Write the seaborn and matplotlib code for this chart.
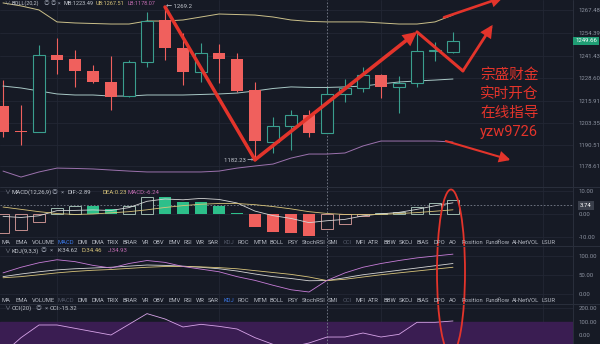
import matplotlib
matplotlib.use("Agg")
import matplotlib.pyplot as plt
import seaborn as sns
import numpy as np
from matplotlib.patches import Ellipse
from matplotlib.lines import Line2D

# ---------------- data ----------------
opens = [1212.8, 1198.2, 1198.0, 1241.9, 1239.6, 1232.8, 1226.5, 1218.5, 1237.9, 1261.8, 1245.9, 1232.2, 1243.0,
         1239.6, 1222.0, 1192.3, 1201.5, 1207.7, 1197.5, 1219.7, 1223.1, 1230.5, 1223.7, 1225.9, 1244.1, 1243.6]
closes = [1198.0, 1198.0, 1241.9, 1239.0, 1232.8, 1226.5, 1218.0, 1237.9, 1261.2, 1245.9, 1232.2, 1243.0, 1239.6,
          1221.4, 1192.9, 1201.5, 1207.7, 1197.5, 1219.7, 1223.1, 1230.5, 1223.7, 1225.9, 1244.1, 1244.7, 1249.66]
highs = [1227.6, 1213.4, 1247.6, 1251.5, 1244.7, 1236.2, 1241.3, 1239.0, 1266.3, 1269.2, 1254.4, 1248.7, 1248.1,
         1243.0, 1226.5, 1206.6, 1210.6, 1210.6, 1223.7, 1228.2, 1235.0, 1231.0, 1229.9, 1255.0, 1249.3, 1255.0]
lows = [1195.2, 1190.6, 1198.0, 1231.1, 1223.7, 1225.9, 1210.6, 1218.0, 1235.0, 1239.0, 1224.8, 1226.5, 1225.9,
        1220.8, 1182.23, 1186.1, 1187.8, 1195.2, 1197.5, 1215.1, 1220.8, 1217.4, 1208.8, 1223.7, 1238.5, 1243.0]

boll_upper = [1271.5, 1269.8, 1267.5, 1260.7, 1260.1, 1259.8, 1259.5, 1259.5, 1261.2, 1261.2, 1261.8, 1263.5, 1265.2,
              1264.9, 1264.6, 1263.5, 1261.8, 1261.0, 1260.7, 1260.7, 1260.7, 1260.1, 1259.5, 1259.5, 1260.7, 1264.6]
boll_mid = [1224.2, 1223.1, 1221.4, 1219.7, 1219.1, 1219.1, 1218.5, 1218.5, 1219.1, 1219.1, 1219.1, 1219.4, 1219.7,
            1220.2, 1221.4, 1222.8, 1223.7, 1223.4, 1223.4, 1223.7, 1224.2, 1225.4, 1226.5, 1227.1, 1227.6, 1228.2]
boll_lower = [1175.8, 1172.4, 1175.3, 1177.5, 1177.3, 1177.0, 1176.4, 1175.8, 1175.3, 1175.3, 1175.3, 1175.3, 1175.8,
              1177.5, 1178.7, 1179.8, 1183.2, 1185.5, 1185.5, 1186.1, 1190.1, 1192.9, 1192.9, 1192.9, 1192.9, 1192.3]

macd_hist = [-8, -7, -3.5, 2.5, 3.5, 3.5, 2, 3.5, 7.3, 7.3, 5, 5, 3.5, 0.5, -5.5, -7.8, -8.2, -9.4, -6.24,
             -4.2, -1, 0.5, 1, 2.8, 4.7, 6]
macd_dea = [3.0, 2.0, 1.0, 0.2, -0.2, 0.0, 0.5, 1.0, 1.8, 2.8, 3.6, 4.2, 4.5, 4.5, 4.0, 3.2, 2.2, 1.0, 0.23,
            -0.2, -0.3, -0.2, 0.2, 0.6, 1.2, 1.8]
macd_dif = [-1.0, -1.5, -0.75, 1.45, 1.55, 1.75, 1.5, 2.75, 5.45, 6.45, 6.1, 6.7, 6.25, 4.75, 1.25, -0.7, -1.9,
            -3.7, -2.89, -2.3, -0.8, 0.05, 0.7, 2.0, 3.55, 4.8]

kdj_k = [45, 52, 58, 63, 66, 68, 70, 73, 76, 75, 73, 70, 66, 60, 52, 45, 40, 34, 34.62, 42, 50, 56, 62, 68, 74, 80]
kdj_d = [42, 45, 50, 55, 59, 62, 64, 67, 70, 72, 72, 71, 69, 66, 61, 56, 51, 44, 34.46, 38, 44, 50, 55, 60, 65, 70]
kdj_j = [55, 70, 82, 90, 85, 75, 68, 80, 88, 83, 72, 65, 58, 45, 35, 22, 10, 4, 34.93, 55, 70, 80, 88, 95, 100, 105]

cci = [-140, -20, 75, 75, 50, 25, 0, 80, 160, 120, 60, 80, 65, 45, -20, -70, -90, -60, -15.32, -15, 15, -15, 5,
       95, 95, 105]

price_ticks = [1267.48, 1254.39, 1241.43, 1228.60, 1215.91, 1203.35, 1190.51, 1178.61]
macd_ticks = [10, 0, -10]
kdj_ticks = [100, 50, 0]
cci_ticks = [200, 100, 0]

tabs = ['MA', 'EMA', 'VOLUME', 'MACD', 'DMI', 'DMA', 'TRIX', 'BRAR', 'VR', 'OBV', 'EMV', 'RSI', 'WR', 'SAR', 'KDJ',
        'ROC', 'MTM', 'BOLL', 'PSY', 'StochRSI', 'SMI', 'CCI', 'MFI', 'ATR', 'BBW', 'SKDJ', 'BIAS', 'DPO', 'AO',
        'Position', 'Fundflow', 'AI-NetVOL', 'LSUR']
tab_x = [2, 15, 32, 57, 78, 91, 107, 123, 142, 153, 168, 184, 196, 208, 223, 238, 253, 269, 287, 302, 328, 343,
         355, 368, 383, 399, 417, 433, 449, 461, 485, 512, 541]

# annotation arrows (start, end, has_head, width)
arrows = [((9, 1269.2), (14, 1182.23), False, 2.5),
          ((14, 1182.23), (23, 1255.0), True, 2.6),
          ((23, 1255.0), (25.55, 1232.8), False, 2.2),
          ((25.55, 1232.8), (27.2, 1259.0), True, 2.0),
          ((24.5, 1263.3), (27.8, 1274.8), True, 1.9),
          ((24.6, 1192.9), (28.2, 1182.1), True, 1.5)]

# ---------------- style ----------------
BG = '#161a25'
RED = '#f0605d'
GREEN = '#2dbf8a'
TEAL = '#3a9e8e'
ANN = '#e3342b'
GRID = '#222734'
TXT = '#c2c6ce'
AXT = '#8c92a0'
WHITE_L = '#d6d6d6'
YEL = '#d8c47a'
PINK = '#c77dd8'

sns.set_theme(style='dark', rc={'axes.facecolor': BG, 'figure.facecolor': BG})
plt.rcParams['font.family'] = ['Roboto', 'Noto Sans CJK SC', 'DejaVu Sans']

W, H = 600, 344
PLOT_W = 573
fig = plt.figure(figsize=(6, 3.44), dpi=100)
fig.patch.set_facecolor(BG)
idx = np.arange(len(opens))
XL = (-3 / 18, (PLOT_W - 3) / 18)


def pane(top, bot, ylim, ticks, fmt='{:.2f}'):
    ax = fig.add_axes([0, 1 - bot / H, PLOT_W / W, (bot - top) / H])
    ax.set_facecolor(BG)
    for s in ax.spines.values():
        s.set_visible(False)
    ax.set_xlim(*XL)
    ax.set_ylim(*ylim)
    ax.set_xticks([])
    ax.yaxis.tick_right()
    ax.set_yticks(ticks)
    ax.set_yticklabels([fmt.format(t) for t in ticks])
    ax.tick_params(axis='y', length=0, pad=4, labelsize=4.3, labelcolor=AXT)
    ax.grid(False)
    for t in ticks:
        ax.axhline(t, color=GRID, lw=0.6, zorder=0)
    for gx in [3, 12, 21, 30]:
        ax.axvline(gx, color=GRID, lw=0.6, zorder=0)
    ax.axvline(18, color='#7a808e', lw=0.6, ls=(0, (2, 2)), zorder=1)
    ax.set_xlabel('')
    ax.set_ylabel('')
    return ax


def ft(x, y, s, **kw):
    kw.setdefault('va', 'center')
    kw.setdefault('fontsize', 4.3)
    fig.text(x / W, 1 - y / H, s, **kw)


# ---------------- main pane ----------------
ax = pane(0, 187, (1166.74, 1273.17), price_ticks)
o = np.array(opens); c = np.array(closes)
up = c >= o
ax.vlines(idx, lows, highs, colors=[TEAL if u else RED for u in up], lw=0.8, zorder=2)
ax.bar(idx[~up], np.maximum(np.abs(c - o)[~up], 0.6), bottom=np.minimum(o, c)[~up], width=0.72,
       color=RED, zorder=3, linewidth=0)
ax.bar(idx[up], np.maximum(np.abs(c - o)[up], 0.3), bottom=np.minimum(o, c)[up], width=0.72,
       facecolor=BG, edgecolor=TEAL, linewidth=0.8, zorder=3)
sns.lineplot(x=idx, y=boll_upper, ax=ax, color='#cbc08a', lw=0.7, zorder=2)
sns.lineplot(x=idx, y=boll_mid, ax=ax, color='#a9c9c6', lw=0.7, zorder=2)
sns.lineplot(x=idx, y=boll_lower, ax=ax, color='#9c72ae', lw=0.7, zorder=2)
ax.set_xlabel(''); ax.set_ylabel('')
ax.text(9.06, highs[9], '\u2190 1269.2', fontsize=4.3, color=TXT, va='center', ha='left', zorder=6)
ax.text(13.9, lows[14] - 0.6, '1182.23 \u2192', fontsize=4.3, color=TXT, va='center', ha='right', zorder=6)
for (s, e, head, lw) in arrows:
    style = '-|>,head_length=0.6,head_width=0.3' if head else '-'
    ax.annotate('', xy=e, xytext=s, annotation_clip=False, zorder=7,
                arrowprops=dict(arrowstyle=style, color=ANN, lw=lw, shrinkA=0, shrinkB=0,
                                mutation_scale=10, capstyle='round', joinstyle='miter'))

# ---------------- MACD pane ----------------
ax2 = pane(187, 246, (-13.73, 11.59), macd_ticks)
h = np.array(macd_hist)
rising = np.r_[True, h[1:] > h[:-1]]
for i, v in enumerate(h):
    if rising[i]:
        ax2.bar(i, v, width=0.72, facecolor=BG, edgecolor='#9db8ae' if v >= 0 else '#c48e8e', linewidth=0.7,
                zorder=3)
    else:
        ax2.bar(i, v if abs(v) > 0.3 else 0.3, width=0.72, color=GREEN if v >= 0 else RED, linewidth=0, zorder=3)
sns.lineplot(x=idx, y=macd_dif, ax=ax2, color=WHITE_L, lw=0.6, zorder=4)
sns.lineplot(x=idx, y=macd_dea, ax=ax2, color=YEL, lw=0.6, zorder=4)
ax2.axhline(3.74, color='#7a808e', lw=0.6, ls=(0, (2, 2)), zorder=1)
ax2.set_xlabel(''); ax2.set_ylabel('')

# ---------------- KDJ pane ----------------
ax3 = pane(246, 304, (-28, 126.7), kdj_ticks)
sns.lineplot(x=idx, y=kdj_k, ax=ax3, color=WHITE_L, lw=0.6)
sns.lineplot(x=idx, y=kdj_d, ax=ax3, color=YEL, lw=0.6)
sns.lineplot(x=idx, y=kdj_j, ax=ax3, color=PINK, lw=0.6)
ax3.set_xlabel(''); ax3.set_ylabel('')

# ---------------- CCI pane ----------------
ax4 = pane(304, 344, (-67.4, 232.2), cci_ticks)
ax4.axhspan(-100, 100, color='#3a1d52', zorder=0)
sns.lineplot(x=idx, y=cci, ax=ax4, color='#d7a4e8', lw=0.6, zorder=3)
ax4.set_xlabel(''); ax4.set_ylabel('')

# ---------------- dividers ----------------
for yy in [187, 246, 304]:
    fig.add_artist(Line2D([0, 1], [1 - yy / H] * 2, color='#2a2f3c', lw=0.7, transform=fig.transFigure))
fig.add_artist(Line2D([PLOT_W / W] * 2, [0, 1], color='#2a2f3c', lw=0.7, transform=fig.transFigure))

# ---------------- header labels ----------------
HY = 3.5
HF = 4.0
ft(4, HY, '\u2228', color=AXT, fontsize=HF)
ft(12, HY, 'BOLL(20,2)', color=TXT, fontsize=HF)
ft(44, HY, '\u25ce \u25ce \u00d7', color=AXT, fontsize=HF)
ft(64, HY, 'MB:1223.49', color=TXT, fontsize=HF)
ft(96, HY, 'UB:1267.51', color=YEL, fontsize=HF)
ft(127, HY, 'LB:1178.07', color='#c06bb0', fontsize=HF)

ft(4, 192, '\u2228', color=AXT)
ft(12, 192, 'MACD(12,26,9)', color=TXT)
ft(52, 192, '\u25ce  \u00d7', color=AXT)
ft(68, 192, 'DIF:-2.89', color=TXT)
ft(102, 192, 'DEA:0.23', color=YEL)
ft(127, 192, 'MACD:-6.24', color='#c06bb0')

ft(4, 251, '\u2228', color=AXT)
ft(12, 251, 'KDJ(9,3,3)', color=TXT)
ft(41, 251, '\u25ce  \u00d7', color=AXT)
ft(57, 251, 'K:34.62', color=TXT)
ft(82, 251, 'D:34.46', color=YEL)
ft(108, 251, 'J:34.93', color='#c06bb0')

ft(4, 308, '\u2228', color=AXT)
ft(12, 308, 'CCI(20)', color=TXT)
ft(36, 308, '\u25ce  \u00d7', color=AXT)
ft(50, 308, 'CCI:-15.32', color=TXT)

# ---------------- indicator tab rows ----------------
for row_y, active, dim in [(242, 'MACD', ('KDJ', 'CCI')), (300, 'KDJ', ('MACD', 'CCI'))]:
    for name, x in zip(tabs, tab_x):
        col = '#3b78e7' if name == active else ('#525868' if name in dim else '#b4b8c2')
        ft(x, row_y, name, color=col, fontsize=4.2)

# ---------------- right axis badges ----------------
ft(586, 41, '1249.66', ha='center', color='white',
   bbox=dict(boxstyle='square,pad=0.3', fc='#1f9d74', ec='none'))
ft(586, 205.5, '3.74', ha='center', color='white',
   bbox=dict(boxstyle='square,pad=0.3', fc='#3a3f4b', ec='none'))

# ---------------- overlay text ----------------
for yy, s in zip([75, 94, 113, 132], ['宗盛财金', '实时开仓', '在线指导', 'yzw9726']):
    ft(480, yy, s, color=ANN, fontsize=10.5, ha='left')

fig.add_artist(Ellipse((451 / W, 1 - 272 / H), 28 / W, 165 / H, transform=fig.transFigure,
                       fill=False, ec=ANN, lw=1.3))

fig.savefig('out.png', dpi=100, facecolor=BG)
